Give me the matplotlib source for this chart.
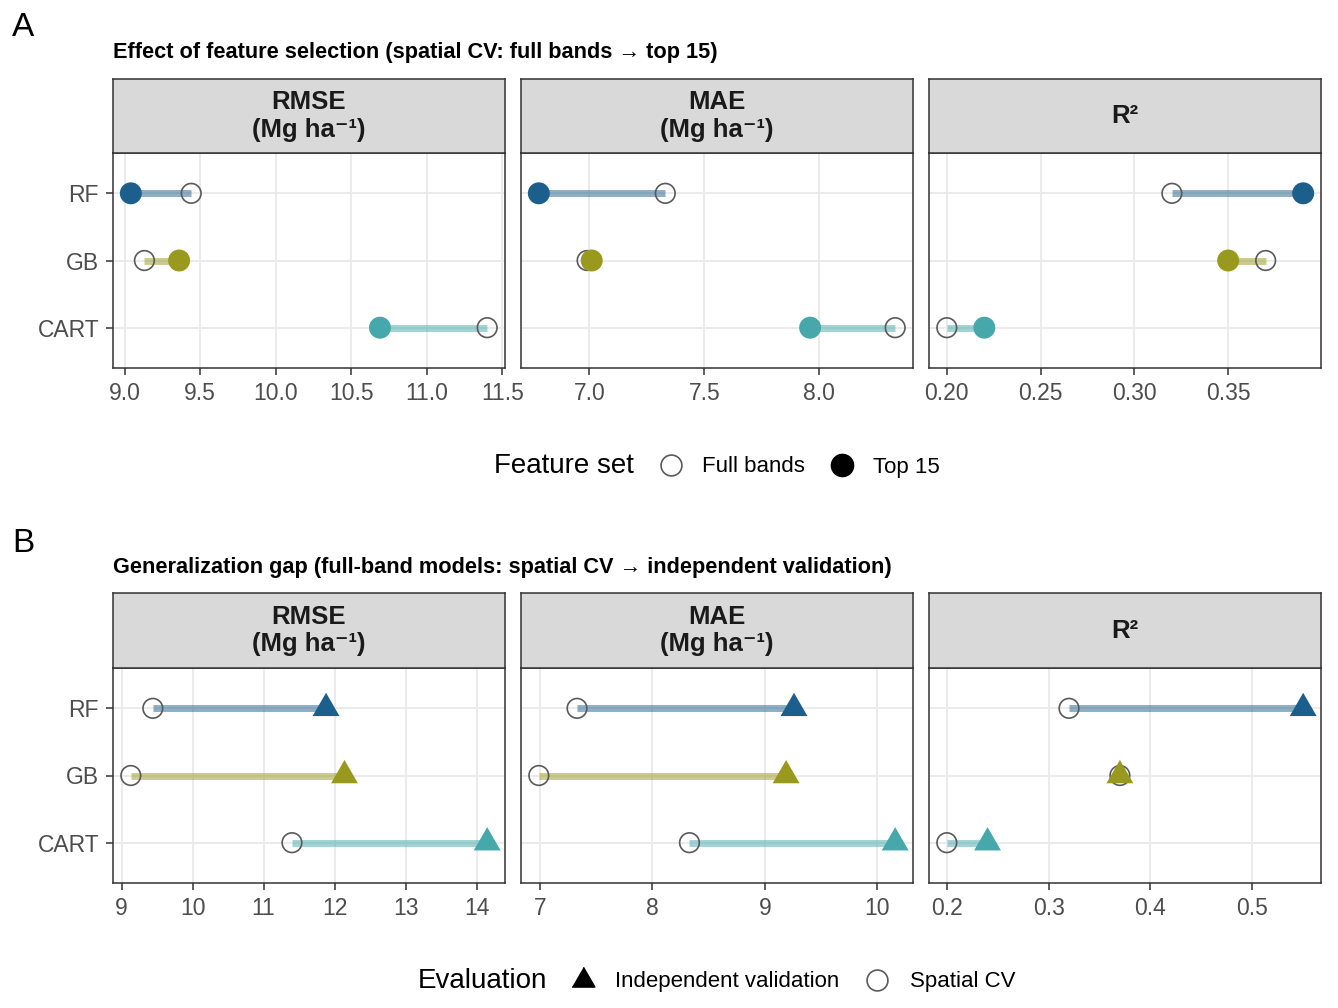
import numpy as np
import matplotlib
matplotlib.use("Agg")
import matplotlib.pyplot as plt
from matplotlib.ticker import MultipleLocator, FormatStrFormatter
from matplotlib.lines import Line2D

plt.rcParams['font.family'] = ['Liberation Sans', 'DejaVu Sans']

# ---------------- data ----------------
models = ["RF", "GB", "CART"]
metrics = ["RMSE\n(Mg ha\u207b\u00b9)", "MAE\n(Mg ha\u207b\u00b9)", "R\u00b2"]

# Panel A: spatial CV, full bands vs top 15
full_rmse = [9.44, 9.13, 11.40]
top_rmse = [9.04, 9.36, 10.69]
full_mae = [7.33, 6.99, 8.33]
top_mae = [6.78, 7.01, 7.96]
full_r2 = [0.32, 0.37, 0.20]
top_r2 = [0.39, 0.35, 0.22]

# Panel B: full-band models, spatial CV vs independent validation
cv_rmse = full_rmse
cv_mae = full_mae
cv_r2 = full_r2
ind_rmse = [11.88, 12.14, 14.15]
ind_mae = [9.26, 9.19, 10.16]
ind_r2 = [0.55, 0.37, 0.24]

colors = ["#1C5E8C", "#99991E", "#46A8AA"]

# ---------------- layout ----------------
W, H = 1338, 1008
fig = plt.figure(figsize=(W / 100, H / 100), dpi=100)


def px_axes(x0, y0, x1, y1):
    return fig.add_axes([x0 / W, 1 - y1 / H, (x1 - x0) / W, (y1 - y0) / H])


facet_x = [(113, 505), (521, 913), (929, 1321)]
BORDER = "#333333"
OPEN_EDGE = "#5A5A5A"
TRI = [(0, 1.5551), (1.3468, -0.7776), (-1.3468, -0.7776)]


def strip(x0, y0, x1, y1, label):
    s = px_axes(x0, y0, x1, y1)
    s.set_facecolor("#D9D9D9")
    s.set_xticks([])
    s.set_yticks([])
    for sp in s.spines.values():
        sp.set_color(BORDER)
        sp.set_linewidth(1.1)
    s.text(0.5, 0.5, label, ha="center", va="center", fontsize=18.5,
           fontweight="bold", linespacing=1.2, color="#1A1A1A",
           transform=s.transAxes)


def style_panel(ax, first, step, fmt):
    ax.set_facecolor("white")
    ypos = np.arange(len(models))
    ax.set_yticks(ypos)
    ax.set_ylim(len(models) - 1 + 0.6, -0.6)
    ax.margins(x=0.05)
    ax.xaxis.set_major_locator(MultipleLocator(step))
    ax.xaxis.set_major_formatter(FormatStrFormatter(fmt))
    ax.grid(True, color="#EBEBEB", lw=1.4, zorder=0)
    ax.set_axisbelow(True)
    ax.tick_params(axis="both", length=5, width=1.1, color=BORDER,
                   labelcolor="#4D4D4D", labelsize=16.5, pad=5)
    if first:
        ax.set_yticklabels(models)
    else:
        ax.set_yticklabels([])
        ax.tick_params(axis="y", length=0, width=0)
    for sp in ax.spines.values():
        sp.set_color(BORDER)
        sp.set_linewidth(1.1)


def draw_row(y0, y1, strip_y0, left_sets, right_sets, right_marker, steps, fmts):
    for i, (x0, x1) in enumerate(facet_x):
        ax = px_axes(x0, y0, x1, y1)
        ypos = np.arange(len(models))
        a = np.array(left_sets[i])
        b = np.array(right_sets[i])
        ax.hlines(ypos, a, b, colors=colors, alpha=0.5, lw=5.0,
                  capstyle="butt", zorder=2)
        ax.scatter(a, ypos, s=200, facecolors="none", edgecolors=OPEN_EDGE,
                   linewidths=1.2, zorder=3)
        if right_marker == "o":
            ax.scatter(b, ypos, s=250, c=colors, marker="o",
                       edgecolors="none", zorder=4)
        else:
            ax.scatter(b, ypos, s=500, c=colors, marker=TRI,
                       edgecolors="none", zorder=4)
        style_panel(ax, i == 0, steps[i], fmts[i])
        strip(x0, strip_y0, x1, y0, metrics[i])


# Panel A
draw_row(153, 368, 79,
         [full_rmse, full_mae, full_r2],
         [top_rmse, top_mae, top_r2],
         "o", [0.5, 0.5, 0.05], ["%.1f", "%.1f", "%.2f"])

# Panel B
draw_row(668, 883, 593,
         [cv_rmse, cv_mae, cv_r2],
         [ind_rmse, ind_mae, ind_r2],
         "^", [1, 1, 0.1], ["%d", "%d", "%.1f"])

# Titles and tags
fig.text(12 / W, 1 - 28 / H, "A", fontsize=24, ha="left", va="center")
fig.text(12 / W, 1 - 543 / H, "B", fontsize=24, ha="left", va="center")
fig.text(113 / W, 1 - 58 / H,
         "Effect of feature selection (spatial CV: full bands \u2192 top 15)",
         fontsize=15.7, fontweight="bold", ha="left", va="baseline")
fig.text(113 / W, 1 - 573 / H,
         "Generalization gap (full-band models: spatial CV \u2192 independent validation)",
         fontsize=15.7, fontweight="bold", ha="left", va="baseline")

# Legends
fig.text(494 / W, 1 - 466 / H, "Feature set", fontsize=20, ha="left", va="center")
hA = [Line2D([], [], ls="", marker="o", mfc="none", mec=OPEN_EDGE, mew=1.2, ms=15),
      Line2D([], [], ls="", marker="o", mfc="black", mec="black", ms=16)]
fig.legend(hA, ["Full bands", "Top 15"], loc="center left",
           bbox_to_anchor=(660 / W, 1 - 467 / H), ncol=2, frameon=False,
           fontsize=16, handlelength=1, handletextpad=0.9, columnspacing=1.15,
           borderpad=0, borderaxespad=0)

fig.text(418 / W, 1 - 981 / H, "Evaluation", fontsize=20, ha="left", va="center")
hB = [Line2D([], [], ls="", marker=TRI, mfc="black", mec="black", ms=19),
      Line2D([], [], ls="", marker="o", mfc="none", mec=OPEN_EDGE, mew=1.2, ms=15)]
fig.legend(hB, ["Independent validation", "Spatial CV"], loc="center left",
           bbox_to_anchor=(572 / W, 1 - 982 / H), ncol=2, frameon=False,
           fontsize=16, handlelength=1, handletextpad=0.95, columnspacing=1.2,
           borderpad=0, borderaxespad=0)

fig.savefig("out.png", dpi=100, facecolor="white")
